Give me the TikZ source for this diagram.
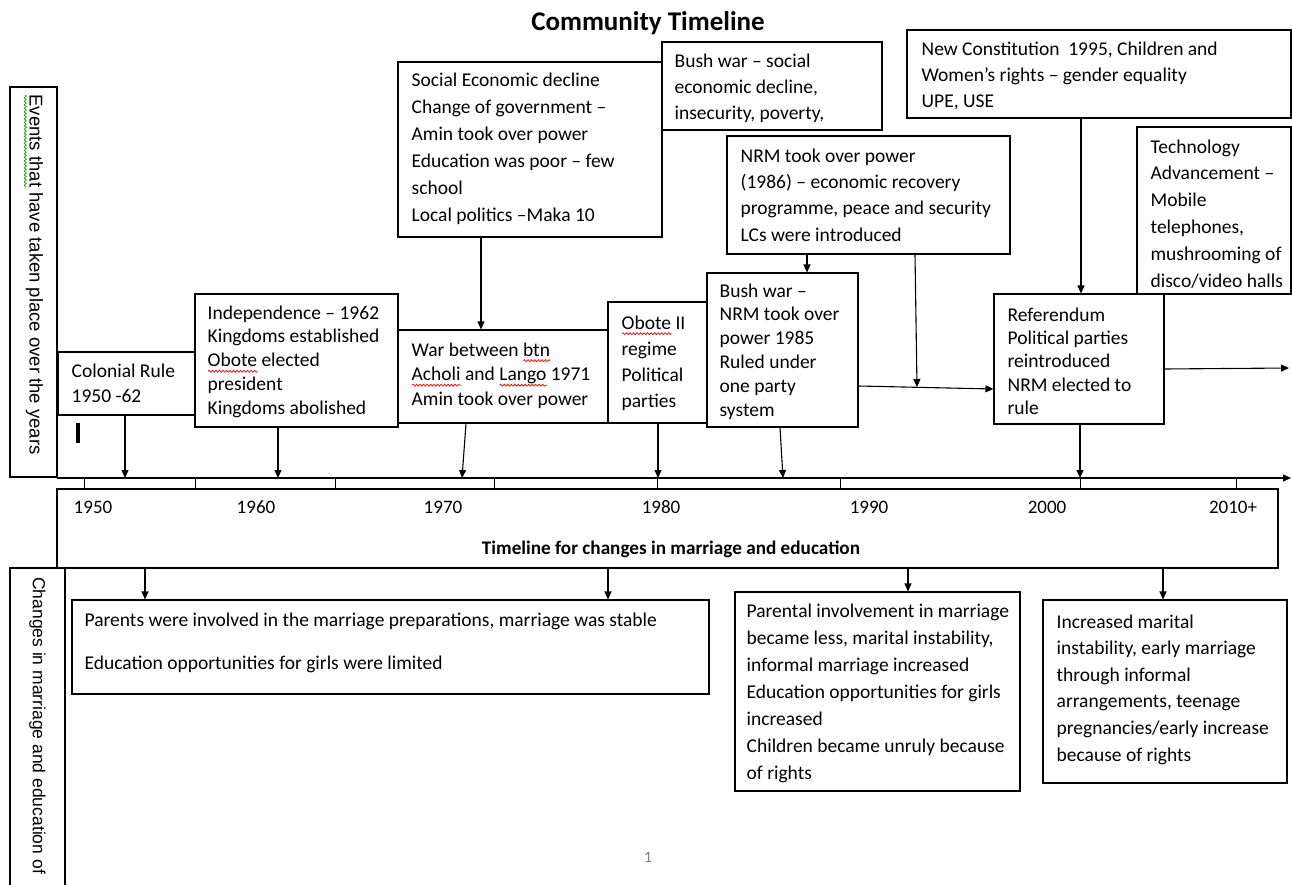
\documentclass[tikz,border=0pt]{standalone}
\usepackage{fontspec}
\setmainfont{Carlito}
\newfontfamily\labelfont{Liberation Sans}
\usetikzlibrary{arrows.meta, positioning, calc, fit, decorations.pathmorphing}

% spell-check style wavy underline under a word
\newcommand{\wavy}[2]{\setbox0\hbox{#2}\rlap{\tikz[baseline=0pt]\draw[#1, line width=0.7pt, decorate, decoration={snake, amplitude=1pt, segment length=3.5pt}] (0pt,-4.5pt) -- (\the\wd0,-4.5pt);}\box0\relax}

\begin{document}
\begin{tikzpicture}[x=1pt, y=-1pt,
  evbox/.style={draw, line width=1.1pt, inner sep=0pt},
  evtext/.style={anchor=north west, align=left, inner sep=0pt, font=\fontsize{19.5}{#1}\selectfont},
  evtext/.default=25,
  conn/.style={-{Triangle[length=8pt, width=7pt]}, line width=1.1pt},
  yearlbl/.style={font=\fontsize{19}{22}\selectfont},
  sidelbl/.style={rotate=-90, anchor=west, inner sep=0pt, font=\labelfont\fontsize{18.5}{20}\selectfont}]

  \useasboundingbox (0,0) rectangle (1292,885);

  % Title
  \node[font=\fontsize{27}{30}\selectfont\bfseries] (title) at (648,23) {Community Timeline};

  % Side label, upper half
  \node[evbox, fit={(10,87) (57,477)}] (evlabel) {};
  \node[sidelbl] (evlabeltxt) at ($(evlabel.north)+(0,8)$) {\wavy{green!60!black}{Events that} have taken place over the years};

  % Event boxes above the time line
  \node[evbox, fit={(58,352) (196,415)}] (colonial) {};
  \node[evtext] (colonialtxt) at ($(colonial.north west)+(14,12)$) {Colonial Rule\\1950 -62};

  \node[evbox, fill=white, fit={(195,294) (398,427)}] (indep) {};
  \node[evtext=23.8] (indeptxt) at ($(indep.north west)+(13,12)$)
    {Independence – 1962\\Kingdoms established\\\wavy{red}{Obote} elected\\president\\Kingdoms abolished};

  \node[evbox, fit={(398,62) (662,237)}] (socdec) {};
  \node[evtext=27] (socdectxt) at ($(socdec.north west)+(14,11)$)
    {Social Economic decline\\Change of government –\\Amin took over power\\Education was poor – few\\school\\Local politics –Maka 10};

  \node[evbox, fit={(662,42) (882,130)}] (bushsoc) {};
  \node[evtext=26] (bushsoctxt) at ($(bushsoc.north west)+(13,12)$)
    {Bush war – social\\economic decline,\\insecurity, poverty,};

  \node[evbox, fit={(398,330) (608,423)}] (war) {};
  \node[evtext=24.5] (wartxt) at ($(war.north west)+(14,13)$)
    {War between \wavy{red}{btn}\\\wavy{red}{Acholi} and \wavy{red}{Lango} 1971\\Amin took over power};

  \node[evbox, fit={(608,302) (707,423)}] (obote) {};
  \node[evtext=26] (obotetxt) at ($(obote.north west)+(14,14)$)
    {\wavy{red}{Obote} II\\regime\\Political\\parties};

  \node[evbox, fit={(727,136) (1010,254)}] (nrm86) {};
  \node[evtext=26.3] (nrm86txt) at ($(nrm86.north west)+(14,13)$)
    {NRM took over power\\(1986) – economic recovery\\programme, peace and security\\LCs were introduced};

  \node[evbox, fit={(707,273) (858,427)}] (bushnrm) {};
  \node[evtext=23.8] (bushnrmtxt) at ($(bushnrm.north west)+(13,11)$)
    {Bush war –\\NRM took over\\power 1985\\Ruled under\\one party\\system};

  \node[evbox, fit={(907,30) (1291,118)}] (newcon) {};
  \node[evtext=26] (newcontxt) at ($(newcon.north west)+(15,12)$)
    {New Constitution\ \ 1995, Children and\\Women’s rights – gender equality\\UPE, USE};

  \node[evbox, fit={(1137,127) (1291,294)}] (tech) {};
  \node[evtext=26.8] (techtxt) at ($(tech.north west)+(14,13)$)
    {Technology\\Advancement –\\Mobile\\telephones,\\mushrooming of\\disco/video halls};

  \node[evbox, fill=white, fit={(994,294) (1164,424)}] (referendum) {};
  \node[evtext=23.3] (referendumtxt) at ($(referendum.north west)+(14,14)$)
    {Referendum\\Political parties\\reintroduced\\NRM elected to\\rule};

  % stray cursor mark
  \draw[line width=3.5pt] (78,423) -- (78,443);

  % Time line axis and ticks
  \coordinate (axisL) at (57,478);
  \coordinate (axisR) at (1291,478);
  \node[evbox, fit={(57,489) (1278,568)}] (yearbox) {};
  \draw[conn] (axisL) -- (axisR);
  \foreach \tx in {84,195,335,494,657,840,1080,1236}
    \draw[line width=1pt] (axisL -| \tx,0) -- (yearbox.north -| \tx,0);

  % Year labels
  \foreach \yr/\xp [count=\i] in {1950/93, 1960/256, 1970/443, 1980/661, 1990/869, 2000/1047, 2010+/1233}
    \node[yearlbl] (yr-\i) at (\xp,507) {\yr};
  \node[font=\fontsize{19.2}{22}\selectfont\bfseries] (yearcap) at (671,549) {Timeline for changes in marriage and education};

  % Arrows onto the time line
  \draw[conn] (colonial.south -| 125,0) -- (axisL -| 125,0);
  \draw[conn] (indep.south -| 278,0) -- (axisL -| 278,0);
  \draw[conn] (war.south -| 466,0) -- (axisL -| 462,0);
  \draw[conn] (obote.south -| 658,0) -- (axisL -| 658,0);
  \draw[conn] (bushnrm.south -| 780,0) -- (axisL -| 783,0);
  \draw[conn] (referendum.south -| 1080,0) -- (axisL -| 1080,0);

  % Arrows between event boxes
  \draw[conn] (socdec.south -| 481,0) -- (war.north -| 481,0);
  \draw[conn] (nrm86.south -| 807,0) -- (bushnrm.north -| 807,0);
  \coordinate (junction) at (917,387);
  \draw[conn] (nrm86.south -| 915,0) -- (junction);
  \draw[conn] (bushnrm.east |- 0,386) -- (referendum.west |- 0,389);
  \draw[conn] (newcon.south -| 1081,0) -- (referendum.north -| 1081,0);
  \coordinate (outright) at (1289,368);
  \draw[conn] (referendum.east |- 0,369) -- (outright);

  % Side label, lower half
  \draw[line width=1.1pt] (10,885) -- (10,568) -- (65,568) -- (65,885);
  \node[sidelbl, font=\labelfont\fontsize{17.5}{20}\selectfont] (chlabeltxt) at (37.5,577) {Changes in marriage and education of};

  % Change boxes below the time line
  \node[evbox, fit={(72,600) (709,694)}] (parents) {};
  \node[evtext=43] (parentstxt) at ($(parents.north west)+(13,13)$)
    {Parents were involved in the marriage preparations, marriage was stable\\Education opportunities for girls were limited};

  \node[evbox, fit={(735,592) (1020,791)}] (parental) {};
  \node[evtext=27] (parentaltxt) at ($(parental.north west)+(12,12)$)
    {Parental involvement in marriage\\became less, marital instability,\\informal marriage increased\\Education opportunities for girls\\increased\\Children became unruly because\\of rights};

  \node[evbox, fit={(1043,600) (1287,783)}] (increased) {};
  \node[evtext=26.6] (increasedtxt) at ($(increased.north west)+(14,15)$)
    {Increased marital\\instability, early marriage\\through informal\\arrangements, teenage\\pregnancies/early increase\\because of rights};

  \draw[conn] (yearbox.south -| 145,0) -- (parents.north -| 145,0);
  \draw[conn] (yearbox.south -| 608,0) -- (parents.north -| 608,0);
  \draw[conn] (yearbox.south -| 908,0) -- (parental.north -| 908,0);
  \draw[conn] (yearbox.south -| 1163,0) -- (increased.north -| 1163,0);

  % Page number
  \node[text=gray, font=\fontsize{16}{18}\selectfont] (pagenum) at (648,857) {1};
\end{tikzpicture}
\end{document}
